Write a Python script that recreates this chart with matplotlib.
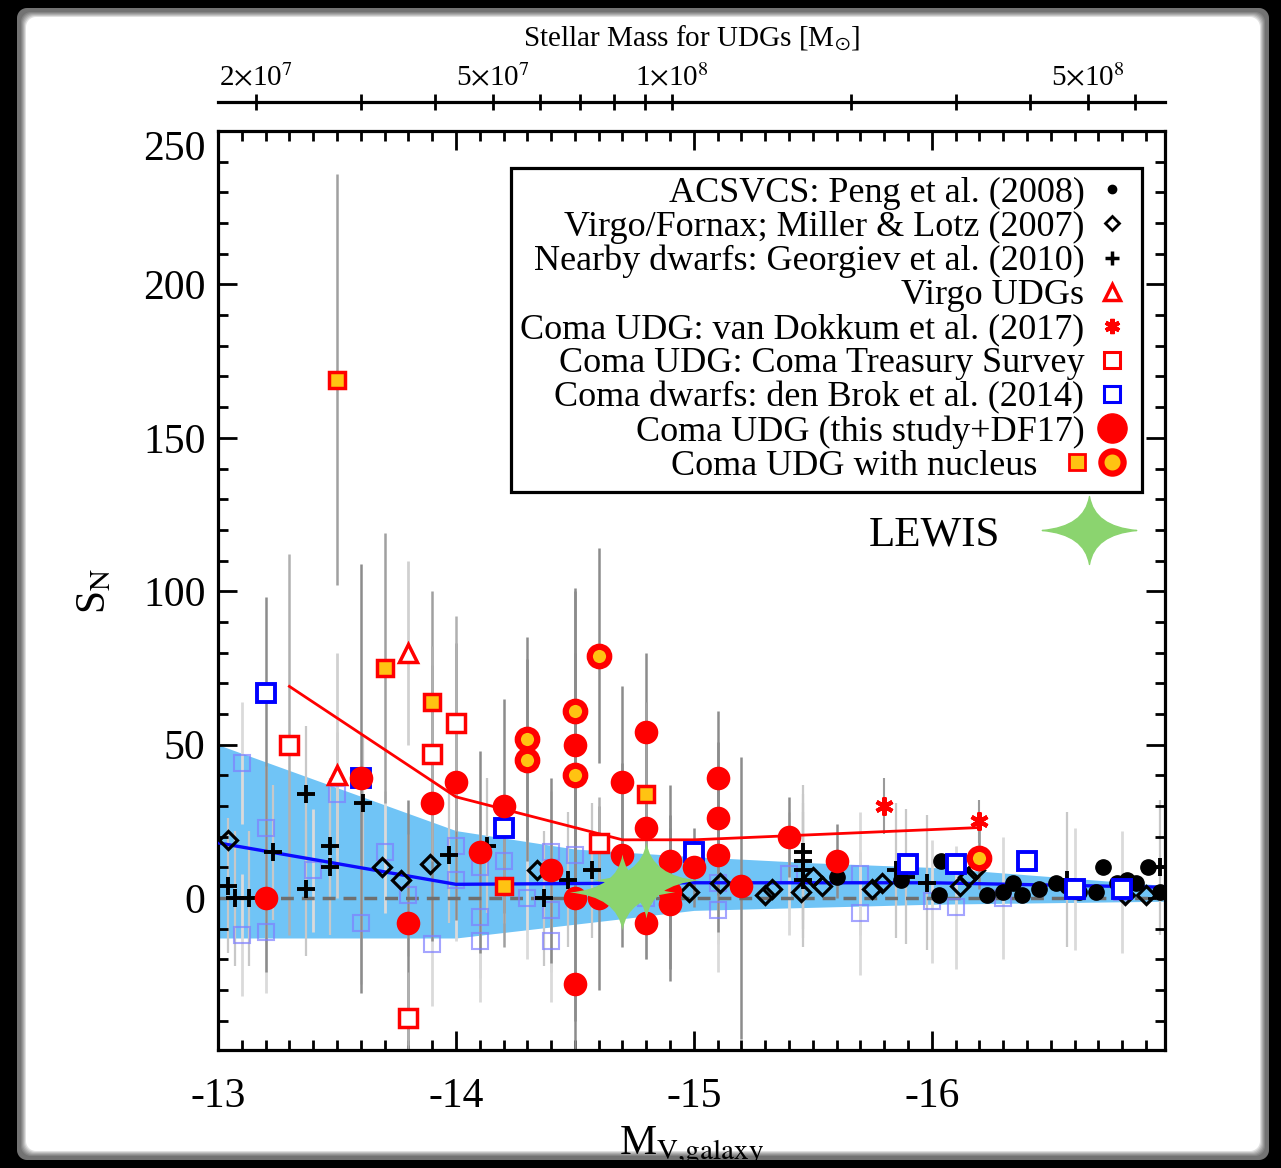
import matplotlib
matplotlib.use("Agg")
import matplotlib.pyplot as plt
import numpy as np
from matplotlib.lines import Line2D
from matplotlib.path import Path
from matplotlib.patches import PathPatch
from matplotlib.transforms import Affine2D
from matplotlib.ticker import MultipleLocator

plt.rcParams['font.family'] = ['Liberation Serif', 'DejaVu Serif']
plt.rcParams['mathtext.fontset'] = 'stix'
plt.rcParams['axes.unicode_minus'] = False

# ---------------- data ----------------
# ACSVCS: Peng et al. (2008)
peng_mv = [-15.60, -15.87, -16.03, -16.04, -16.23, -16.30, -16.34, -16.38, -16.45, -16.52,
           -16.57, -16.62, -16.69, -16.72, -16.78, -16.82, -16.86, -16.91, -16.96]
peng_sn = [7, 6, 1, 12, 1, 2, 5, 1, 3, 5, 4, 2, 2, 10, 5, 6, 5, 10, 2]

# Virgo/Fornax; Miller & Lotz (2007)
ml_mv = [-13.04, -13.69, -13.77, -13.89, -14.34, -14.98, -15.11, -15.30, -15.33, -15.45,
         -15.50, -15.54, -15.75, -15.79, -16.12, -16.15, -16.18, -16.81, -16.90]
ml_sn = [19, 10, 6, 11, 9, 2, 5, 1, 3, 2, 7, 4, 3, 5, 4, 7, 9, 1, 1]

# Nearby dwarfs: Georgiev et al. (2010)
geo_mv = [-13.04, -13.07, -13.13, -13.23, -13.37, -13.37, -13.47, -13.47, -13.61, -13.97,
          -14.13, -14.37, -14.47, -14.57, -15.46, -15.46, -15.46, -15.46, -15.85, -15.89,
          -15.98, -16.57, -16.96]
geo_sn = [4, 0, 0, 15, 34, 3, 17, 10, 31, 14, 17, 0, 6, 9, 15, 12, 9, 6, 9, 7, 5, 6, 10]

# Virgo UDGs
vir_mv = [-13.5, -13.8]
vir_sn = [40, 80]
vir_err = [40, 30]

# Coma UDG: van Dokkum et al. (2017)
vd_mv = [-15.8, -16.2]
vd_sn = [30, 25]
vd_err = [9, 7]

# Coma UDG: Coma Treasury Survey
cts_mv = [-13.3, -13.8, -13.9, -14.0, -14.6]
cts_sn = [50, -39, 47, 57, 18]
cts_err = [62, 15, 35, 35, 15]

# Coma dwarfs: den Brok et al. (2014)
db_mv = [-13.2, -13.6, -14.2, -15.0, -15.9, -16.1, -16.4, -16.6, -16.8]
db_sn = [67, 39, 23, 15, 11, 11, 12, 3, 3]
# den Brok, low significance (faint squares)
dbf_mv = [-13.1, -13.2, -13.4, -13.5, -13.7, -13.8, -13.6, -13.1, -13.2, -13.9, -14.0, -14.0,
          -14.1, -14.1, -14.1, -14.2, -14.3, -14.4, -14.4, -14.4, -14.5, -14.8, -15.1, -15.1,
          -15.4, -15.7, -15.7, -16.0, -16.1, -16.3, -16.6, -16.8]
dbf_sn = [44, 23, 9, 34, 15, 1, -8, -12, -11, -15, 6, 17,
          10, -6, -14, 12, 0, 15, -4, -14, 14, 0, 5, -4,
          8, 8, -5, -1, -3, 0, 3, 2]

# Coma UDG (this study + DF17)
udg_mv = [-13.2, -13.6, -13.8, -13.9, -14.0, -14.1, -14.2, -14.4, -14.5, -14.5, -14.5, -14.6,
          -14.7, -14.7, -14.8, -14.8, -14.8, -14.9, -14.9, -14.9, -15.0, -15.1, -15.1, -15.1,
          -15.2, -15.4, -15.6]
udg_sn = [0, 39, -8, 31, 38, 15, 30, 9, 50, 0, -28, 0,
          38, 14, 54, 23, -8, 12, 2, -2, 10, 39, 26, 14,
          4, 20, 12]
udg_lo = [24, 70, 40, 45, 45, 33, 35, 30, 50, 40, 40, 30,
          30, 30, 35, 30, 12, 25, 25, 25, 13, 25, 25, 25,
          50, 13, 12]
udg_hi = [98, 70, 40, 45, 45, 33, 35, 30, 50, 40, 40, 30,
          31, 30, 26, 30, 12, 25, 25, 25, 13, 22, 25, 25,
          42, 13, 12]

# Coma UDG with nucleus
nuc_mv = [-14.3, -14.3, -14.5, -14.5, -14.6, -16.2]
nuc_sn = [52, 45, 61, 40, 79, 13]
nuc_err = [33, 33, 40, 40, 35, 10]
nsq_mv = [-13.5, -13.7, -13.9, -14.2, -14.8]
nsq_sn = [169, 75, 64, 4, 34]
nsq_err = [67, 44, 36, 20, 30]

# LEWIS
lewis_mv = [-14.7, -14.8]
lewis_sn = [2, 6]

# running median of dwarfs (blue) with scatter band, and UDG trend (red)
band_mv = [-13.0, -14.0, -14.5, -15.0, -15.5, -16.0, -17.0]
band_hi = [50, 22, 16, 13.5, 11.5, 10, 4]
band_lo = [-13, -13, -8.5, -4, -3, -2, -1]
blue_mv = [-13.0, -14.0, -15.0, -16.0, -17.0]
blue_sn = [18, 4.5, 5, 5, 3.5]
red_mv = [-13.3, -14.0, -14.7, -15.0, -16.2]
red_sn = [69, 33, 19, 19, 23]

# top axis
mass_ticks = [2e7, 3e7, 4e7, 5e7, 6e7, 7e7, 8e7, 9e7, 1e8, 2e8, 3e8, 4e8, 5e8, 6e8]
mass_labels = ['2$\\times$10$^7$', '', '', '5$\\times$10$^7$', '', '', '', '', '1$\\times$10$^8$',
               '', '', '', '5$\\times$10$^8$', '']

legend_labels = ['ACSVCS: Peng et al. (2008)', 'Virgo/Fornax; Miller & Lotz (2007)',
                 'Nearby dwarfs: Georgiev et al. (2010)', 'Virgo UDGs',
                 'Coma UDG: van Dokkum et al. (2017)', 'Coma UDG: Coma Treasury Survey',
                 'Coma dwarfs: den Brok et al. (2014)', 'Coma UDG (this study+DF17)',
                 'Coma UDG with nucleus']

RED = '#ff0000'
GOLD = '#ffc312'
BAND = '#70c4f6'
GREEN = '#8bd46f'
FAINT = '#7f7fff'

# four-point star marker
star = Path([(1, 0), (0.1, 0.08), (0, 0.72), (-0.1, 0.08), (-1, 0), (-0.1, -0.08),
             (0, -0.72), (0.1, -0.08), (1, 0), (1, 0)],
            [Path.MOVETO, Path.CURVE3, Path.CURVE3, Path.CURVE3, Path.CURVE3, Path.CURVE3,
             Path.CURVE3, Path.CURVE3, Path.CURVE3, Path.CLOSEPOLY])

W, H = 1281, 1168
fig = plt.figure(figsize=(W / 100, H / 100), dpi=100)
ax = fig.add_axes([218 / W, 1 - 1050 / H, (1165 - 218) / W, (1050 - 131) / H])

ax.fill_between(band_mv, band_lo, band_hi, color=BAND, lw=0, zorder=1)

# error bars
ax.errorbar(dbf_mv, dbf_sn, yerr=20, fmt='none', ecolor='#dadada', elinewidth=2, zorder=1.5)
ax.errorbar(geo_mv, geo_sn, yerr=22, fmt='none', ecolor='#c8c8c8', elinewidth=1.6, zorder=1.5)
ax.errorbar(udg_mv, udg_sn, yerr=[udg_lo, udg_hi], fmt='none', ecolor='#8c8c8c', elinewidth=1.8, zorder=2)
ax.errorbar(nuc_mv, nuc_sn, yerr=nuc_err, fmt='none', ecolor='#8c8c8c', elinewidth=1.8, zorder=2)
ax.errorbar(nsq_mv, nsq_sn, yerr=nsq_err, fmt='none', ecolor='#a0a0a0', elinewidth=1.8, zorder=2)
ax.errorbar(cts_mv, cts_sn, yerr=cts_err, fmt='none', ecolor='#b0b0b0', elinewidth=1.8, zorder=2)
ax.errorbar(vir_mv, vir_sn, yerr=vir_err, fmt='none', ecolor='#d0d0d0', elinewidth=2, zorder=2)
ax.errorbar(vd_mv, vd_sn, yerr=vd_err, fmt='none', ecolor='#9a9a9a', elinewidth=1.5, zorder=2)

ax.axhline(0, color='#6f6f6f', lw=2.5, ls=(0, (3.7, 2.3)), zorder=2.5)

ax.plot(dbf_mv, dbf_sn, ls='none', marker='s', ms=12, mfc='none', mec=FAINT, mew=1.5, alpha=0.7, zorder=3)
ax.plot(blue_mv, blue_sn, color='#0a0aff', lw=2.4, zorder=3.5)
ax.plot(red_mv, red_sn, color=RED, lw=2, zorder=3.5)

ax.plot(peng_mv, peng_sn, ls='none', marker='o', ms=11, color='k', zorder=4)
ax.plot(ml_mv, ml_sn, ls='none', marker='D', ms=9, mfc='none', mec='k', mew=2.3, zorder=4)
ax.plot(geo_mv, geo_sn, ls='none', marker='+', ms=13, mec='k', mew=2.8, zorder=4)
ax.plot(db_mv, db_sn, ls='none', marker='s', ms=13, mfc='white', mec='#0000ff', mew=2.8, zorder=4.5)

ax.plot(cts_mv, cts_sn, ls='none', marker='s', ms=13, mfc='white', mec=RED, mew=2.5, zorder=5)
ax.plot(vir_mv, vir_sn, ls='none', marker='^', ms=13, mfc='white', mec=RED, mew=2.5, zorder=5)
ax.plot(vd_mv, vd_sn, ls='none', marker=(6, 2, 0), ms=13, mec=RED, mew=3, zorder=5)
ax.plot(nsq_mv, nsq_sn, ls='none', marker='s', ms=12, mfc=GOLD, mec=RED, mew=2.5, zorder=5)
ax.plot(udg_mv, udg_sn, ls='none', marker='o', ms=17, color=RED, mec='none', zorder=5)
ax.plot(nuc_mv, nuc_sn, ls='none', marker='o', ms=14, mfc=GOLD, mec=RED, mew=4.5, zorder=5)

ax.plot(lewis_mv, lewis_sn, ls='none', marker=star, ms=76, color=GREEN, mec='none', zorder=6)

ax.set_xlim(-13, -16.98)
ax.set_ylim(-49.5, 250)
ax.set_xticks([-13, -14, -15, -16])
ax.set_xticklabels(['-13', '-14', '-15', '-16'])
ax.set_yticks([0, 50, 100, 150, 200, 250])
ax.xaxis.set_minor_locator(MultipleLocator(0.1))
ax.yaxis.set_minor_locator(MultipleLocator(10))
ax.tick_params(which='both', direction='in', top=True, right=True, width=2, colors='k')
ax.tick_params(which='major', length=14, labelsize=30)
ax.tick_params(which='minor', length=7)
ax.tick_params(axis='x', which='major', pad=20)
ax.tick_params(axis='y', which='major', pad=9)
ax.yaxis.get_major_ticks()[-1].label1.set_verticalalignment('top')
for s in ax.spines.values():
    s.set_linewidth(2.3)
ax.set_xlabel('M$_{\\rm V{,}galaxy}$', fontsize=30, labelpad=6)
ax.set_ylabel('S$_{\\rm N}$', fontsize=30, labelpad=21)


def mv2logm(mv):
    return 2.037 - 0.4 * np.asarray(mv)


def logm2mv(lm):
    return (2.037 - np.asarray(lm)) / 0.4


sec = ax.secondary_xaxis(1.0 + (131 - 102) / 919, functions=(mv2logm, logm2mv))
sec.set_xticks(np.log10(mass_ticks), labels=mass_labels)
sec.tick_params(direction='inout', length=12, width=2, labelsize=21, pad=1)
sec.spines['top'].set_linewidth(2.3)
sec.set_xlabel('Stellar Mass for UDGs [M$_{\\odot}$]', fontsize=21, labelpad=13)


# legend
class NucleusKey:
    pass


class NucleusHandler:
    def legend_artist(self, legend, orig_handle, fontsize, handlebox):
        extra = 1.3 * fontsize
        x0, y0 = -handlebox.xdescent, -handlebox.ydescent
        w, h = handlebox.width, handlebox.height
        handlebox.width = w + extra
        xc = x0 + extra + w / 2
        sq = Line2D([xc - 0.97 * fontsize], [y0 + h / 2], ls='none', marker='s', ms=11,
                    mfc=GOLD, mec=RED, mew=2)
        ci = Line2D([xc], [y0 + h / 2], ls='none', marker='o', ms=16, mfc=GOLD, mec=RED, mew=4.5)
        handlebox.add_artist(sq)
        handlebox.add_artist(ci)
        return ci


handles = [
    Line2D([], [], ls='none', marker='o', ms=6, color='k'),
    Line2D([], [], ls='none', marker='D', ms=7, mfc='none', mec='k', mew=2),
    Line2D([], [], ls='none', marker='+', ms=10, mec='k', mew=2.5),
    Line2D([], [], ls='none', marker='^', ms=11, mfc='white', mec=RED, mew=2.5),
    Line2D([], [], ls='none', marker=(6, 2, 0), ms=11, mec=RED, mew=3),
    Line2D([], [], ls='none', marker='s', ms=11, mfc='white', mec=RED, mew=2.2),
    Line2D([], [], ls='none', marker='s', ms=11, mfc='white', mec='#0000ff', mew=2.2),
    Line2D([], [], ls='none', marker='o', ms=21, color=RED),
    NucleusKey(),
]
leg = ax.legend(handles, legend_labels, loc='upper right', bbox_to_anchor=(0.976, 0.960),
                markerfirst=False, fontsize=26, frameon=True, fancybox=False, edgecolor='k',
                framealpha=1, borderpad=0.25, labelspacing=0.02, handlelength=1.15,
                handletextpad=0.2, borderaxespad=0, handler_map={NucleusKey: NucleusHandler()})
leg.get_frame().set_linewidth(2.3)
leg.set_zorder(10)
ax.add_artist(leg)

leg2 = ax.legend([Line2D([], [], ls='none', marker=star, ms=68, color=GREEN)], ['LEWIS'],
                 loc='upper right', bbox_to_anchor=(0.974, 0.582), markerfirst=False,
                 fontsize=31, frameon=False, borderpad=0, borderaxespad=0,
                 handlelength=2.4, handletextpad=0.85)
leg2.set_zorder(10)

# dark rounded frame around the picture
px = Affine2D().scale(1 / W, 1 / H) + fig.transFigure


def rounded_rect(x0, y0, x1, y1, r, n=12):
    pts = []
    for cx, cy, a0 in [(x1 - r, y0 + r, -90), (x1 - r, y1 - r, 0),
                       (x0 + r, y1 - r, 90), (x0 + r, y0 + r, 180)]:
        t = np.radians(np.linspace(a0, a0 + 90, n))
        pts += list(zip(cx + r * np.cos(t), cy + r * np.sin(t)))
    return pts


def ring(inset, color, alpha):
    outer = [(-5, -5), (W + 5, -5), (W + 5, H + 5), (-5, H + 5)]
    inner = rounded_rect(20 + inset, 11 + inset, 1266 - inset, 1157 - inset, 10)[::-1]
    verts = outer + [outer[0]] + inner + [inner[0]]
    codes = ([Path.MOVETO] + [Path.LINETO] * 3 + [Path.CLOSEPOLY]
             + [Path.MOVETO] + [Path.LINETO] * (len(inner) - 1) + [Path.CLOSEPOLY])
    fig.add_artist(PathPatch(Path(verts, codes), transform=px, facecolor=color,
                             edgecolor='none', alpha=alpha, zorder=50))


ring(-3, 'black', 1.0)
for k in range(1, 7):
    ring(k, 'black', 0.12)

fig.savefig('out.png', dpi=100, facecolor='white')
